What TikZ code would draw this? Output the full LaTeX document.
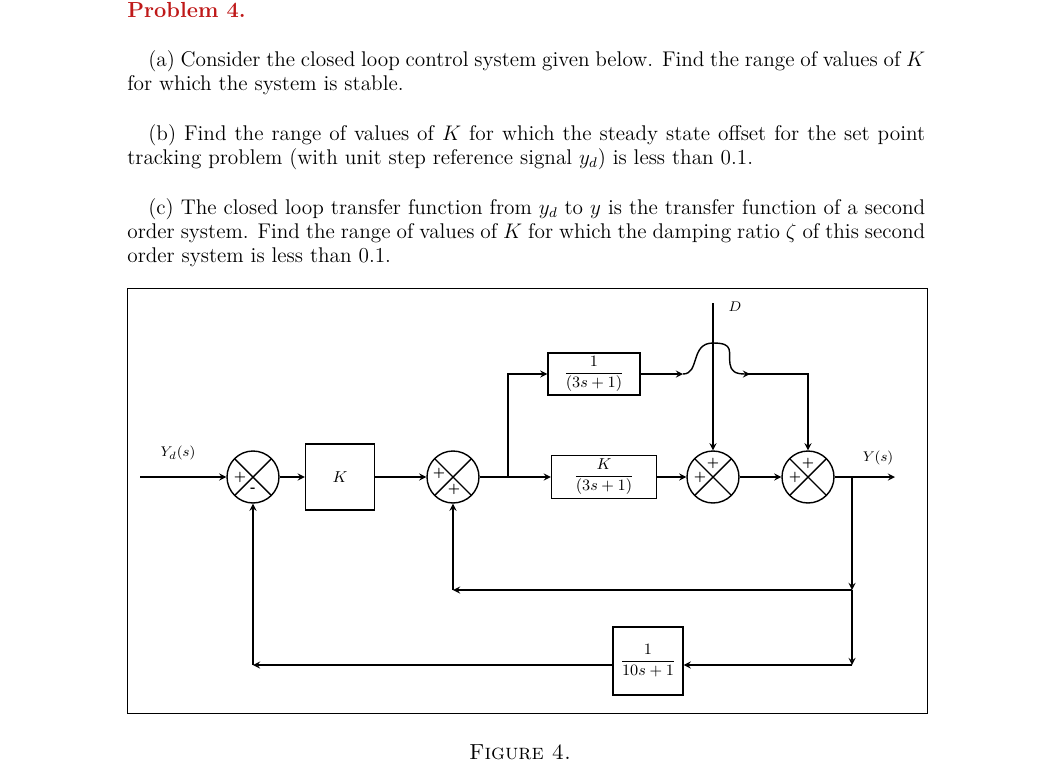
\documentclass[tikz,border=0pt]{standalone}
\usepackage{amsmath}
\usetikzlibrary{arrows}
\definecolor{probred}{rgb}{0.75,0.1,0.1}
\tikzset{
  blk/.style={draw,thick,minimum width=#1,inner sep=2pt,font=\small},
  sumj/.style={draw,thick,circle,minimum size=1.04cm,inner sep=0pt,
    path picture={\draw[thick] (path picture bounding box.north west) -- (path picture bounding box.south east)
      (path picture bounding box.north east) -- (path picture bounding box.south west);}},
  sgn/.style={font=\bfseries\scriptsize,inner sep=0pt},
  line/.style={thick},
  arr/.style={thick,-stealth},
  para/.style={anchor=north west,text width=15.96cm,align=justify,inner sep=0pt,font=\fontsize{12.1}{13.6}\selectfont}
}
\begin{document}
\begin{tikzpicture}[x=0.02cm,y=-0.02cm]
\useasboundingbox (0,0) rectangle (1045,765);

% text of the problem
\node[anchor=west,text=probred,font=\fontsize{12.4}{13.6}\selectfont\bfseries,inner sep=0pt] (title) at (127,10) {Problem 4.};
\node[para] (pa) at (127,50) {\hspace*{0.42cm}(a) Consider the closed loop control system given below. Find the range of values of $K$\linebreak for which the system is stable.};
\node[para] (pb) at (127,124) {\hspace*{0.42cm}(b) Find the range of values of $K$ for which the steady state offset for the set point\linebreak tracking problem (with unit step reference signal $y_d$) is less than 0.1.};
\node[para] (pc) at (127,198) {\hspace*{0.42cm}(c) The closed loop transfer function from $y_d$ to $y$ is the transfer function of a second\linebreak order system. Find the range of values of $K$ for which the damping ratio $\zeta$ of this second\linebreak order system is less than 0.1.};

% frame
\draw[thin] (127,288) rectangle (927,713);

% blocks and junctions
\node[sumj] (s1) at (253,477) {};
\node[blk=1.38cm,minimum height=1.32cm] (gk) at (340,477) {$K$};
\node[sumj] (s2) at (453,477) {};
\node[blk=1.84cm] (g1) at (594,374) {$\dfrac{1}{(3s+1)}$};
\node[blk=2.1cm] (g2) at (604,477) {$\dfrac{K}{(3s+1)}$};
\node[sumj] (s3) at (713,477) {};
\node[sumj] (s4) at (808,477) {};
\node[blk=1.4cm,minimum height=1.36cm] (h) at (648,661) {$\dfrac{1}{10s+1}$};

% signs
\node[sgn] at ([xshift=-0.26cm]s1.center) {$\boldsymbol{+}$};
\node[sgn] at ([yshift=-0.26cm]s1.center) {-};
\node[sgn] at ([xshift=-0.28cm,yshift=0.08cm]s2.center) {$\boldsymbol{+}$};
\node[sgn] at ([xshift=0.02cm,yshift=-0.24cm]s2.center) {$\boldsymbol{+}$};
\node[sgn] at ([yshift=0.28cm]s3.center) {$\boldsymbol{+}$};
\node[sgn] at ([xshift=-0.26cm]s3.center) {$\boldsymbol{+}$};
\node[sgn] at ([yshift=0.28cm]s4.center) {$\boldsymbol{+}$};
\node[sgn] at ([xshift=-0.26cm]s4.center) {$\boldsymbol{+}$};

% coordinates
\coordinate (in) at (140,477);
\coordinate (br) at (508,477);
\coordinate (dtop) at (713,303);
\coordinate (out) at (895,477);
\coordinate (tap) at (852,477);
\coordinate (f1) at (852,590);
\coordinate (f2) at (852,665);
\coordinate (b1) at (683,374);
\coordinate (b2) at (745,374);
\coordinate (t4) at (808,374);

\node[font=\footnotesize] (yd) at (178,453) {$Y_d(s)$};
\node[font=\footnotesize] (dl) at (735,307) {$D$};
\node[font=\footnotesize] (yl) at (878,458) {$Y(s)$};

% forward path
\draw[arr] (in) -- (s1);
\draw[arr] (s1) -- (gk);
\draw[arr] (gk) -- (s2);
\draw[line] (s2) -- (br);
\draw[arr] (br) -- (g2);
\draw[arr] (br) |- (g1);
\draw[arr] (g2) -- (s3);
\draw[arr] (s3) -- (s4);
\draw[arr] (s4) -- (out);
\draw[arr] (dtop) -- (s3);
\draw[arr] (g1.east) -- (b1);
\draw[line] (b1) .. controls (700,374) and (690,343) .. (713,343)
  .. controls (735,343) and (728,352) .. (730,364) .. controls (731,371) and (735,374) .. (b2);
\draw[arr] (b2) -- ([xshift=0.1cm]b2);
\draw[arr] (b2) -- (t4) -- (s4);

% feedback
\draw[arr] (tap) -- (f1);
\draw[arr] (f1) -- (f2);
\draw[arr] (f1) -- (s2 |- f1);
\draw[arr] (s2 |- f1) -- (s2);
\draw[arr] (f2) -- (h.east |- f2);
\draw[arr] (h.west |- f2) -- (s1 |- f2);
\draw[arr] (s1 |- f2) -- (s1);

% caption
\node[font=\fontsize{12.4}{13.6}\selectfont\scshape] (cap) at (520,752) {Figure 4.};
\end{tikzpicture}
\end{document}
